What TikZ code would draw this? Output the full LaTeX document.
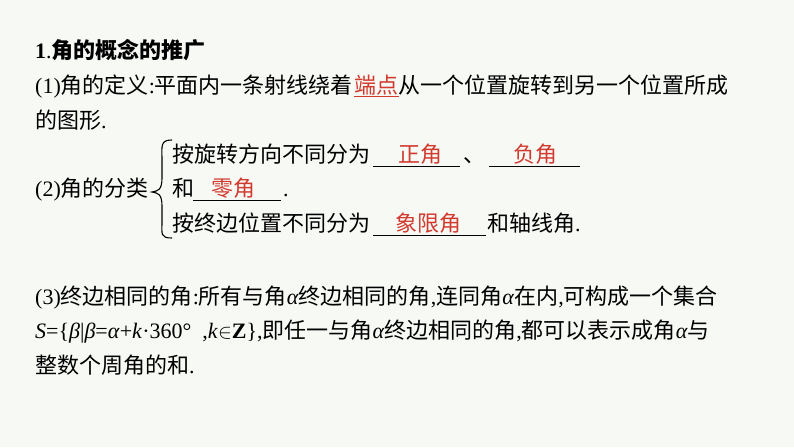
\documentclass[tikz,border=0pt]{standalone}
\usepackage{fontspec}
\setmainfont{Liberation Serif}
\newfontfamily\cjk{Noto Sans CJK SC}
\newcommand\zh[1]{{\cjk #1}}
\definecolor{ansred}{HTML}{D23A2E}
\definecolor{bgc}{HTML}{F7F9F5}
\begin{document}
\begin{tikzpicture}[x=1pt,y=-1pt,
  txt/.style={anchor=base west,inner sep=0pt,font=\fontsize{22}{26}\selectfont},
  ans/.style={anchor=base,inner sep=0pt,text=ansred,font=\fontsize{22}{26}\selectfont},
  blank/.style={line width=1pt}]
\fill[bgc] (0,0) rectangle (794,447);
\useasboundingbox (0,0) rectangle (794,447);
\node[txt] (t1) at (35,58) {\textbf{1}.\zh{\bfseries 角的概念的推广}};
\node[txt] (t2) at (35,93) {(1)\zh{角的定义}:\zh{平面内一条射线绕着}};
\node[txt,text=ansred] (a0) at ([xshift=1pt]t2.base east) {\zh{端点}};
\draw[blank,ansred] ([yshift=-3pt]a0.base west) -- ([yshift=-3pt]a0.base east);
\node[txt] (t2b) at (a0.base east) {\zh{从一个位置旋转到另一个位置所成}};
\node[txt] (t3) at (35,128) {\zh{的图形}.};
\node[txt] (t4) at (35,196) {(2)\zh{角的分类}};
\draw[line width=1.1pt] (172,140) .. controls (160,140) and (162,146) .. (162,160) -- (162,178) .. controls (162,190) and (158,191) .. (152,192) .. controls (158,193) and (162,194) .. (162,206) -- (162,222) .. controls (162,234) and (160,238) .. (172,238);
\node[txt] (t5) at (172,162) {\zh{按旋转方向不同分为}};
\draw[blank] (373,166) coordinate (b1) -- (460,166) coordinate (b1e);
\node[ans] (a1) at (420,162) {\zh{正角}};
\node[txt] (t6) at (463,162) {\zh{、}};
\draw[blank] (489,166) coordinate (b2) -- (580,166) coordinate (b2e);
\node[ans] (a2) at (535,162) {\zh{负角}};
\node[txt] (t7) at (172,196) {\zh{和}};
\draw[blank] (193,200) coordinate (b3) -- (281,200) coordinate (b3e);
\node[ans] (a3) at (233,196) {\zh{零角}};
\node[txt] (t8) at (283,196) {.};
\node[txt] (t9) at (172,231) {\zh{按终边位置不同分为}};
\draw[blank] (373,235) coordinate (b4) -- (486,235) coordinate (b4e);
\node[ans] (a4) at (428,231) {\zh{象限角}};
\node[txt] (t10) at (487,231) {\zh{和轴线角}.};
\node[txt] (t11) at (35,304) {(3)\zh{终边相同的角}:\zh{所有与角}\textit{α}\zh{终边相同的角},\zh{连同角}\textit{α}\zh{在内},\zh{可构成一个集合}};
\node[txt] (t12) at (35,338) {\textit{S}=\{\textit{β}|\textit{β}=\textit{α}+\textit{k}·360°\enspace,\textit{k}$\in$\textbf{Z}\},\zh{即任一与角}\textit{α}\zh{终边相同的角},\zh{都可以表示成角}\textit{α}\zh{与}};
\node[txt] (t13) at (35,373) {\zh{整数个周角的和}.};
\end{tikzpicture}
\end{document}
